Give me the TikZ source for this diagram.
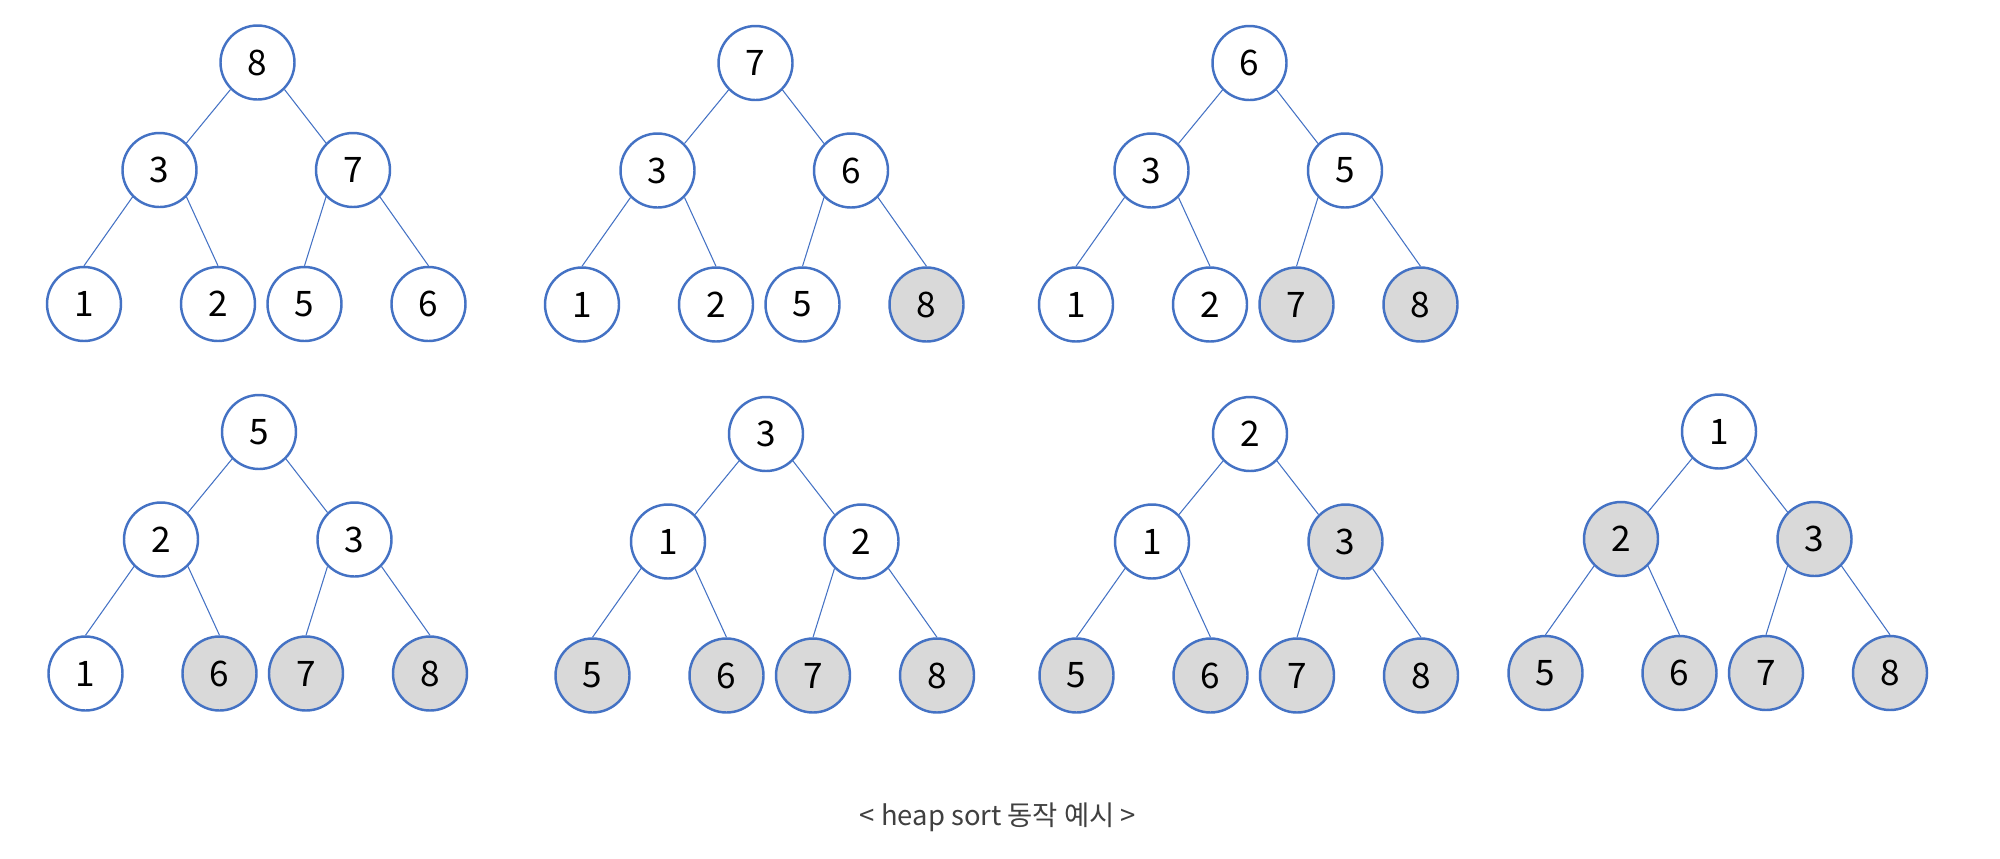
\documentclass[tikz,border=0pt]{standalone}
\usepackage{fontspec}
\setmainfont{Noto Sans CJK KR}
\usepackage{tikz}
\usetikzlibrary{positioning}
\pgfdeclarelayer{edgelayer}
\pgfdeclarelayer{nodelayer}
\pgfsetlayers{edgelayer,nodelayer,main}
\definecolor{KeyBlue}{HTML}{4472C4}
\definecolor{SortedGray}{HTML}{D9D9D9}
\definecolor{CaptionGray}{HTML}{404040}
\tikzstyle{key}=[circle,draw=KeyBlue,fill=white,line width=1.4pt,minimum size=1.48cm,inner sep=0pt,font=\fontsize{20}{22}\selectfont]
\tikzstyle{sorted}=[key,fill=SortedGray]
\tikzstyle{link}=[-,draw=KeyBlue,line width=0.6pt]
\tikzstyle{caption}=[text=CaptionGray,font=\fontsize{15.6}{18}\selectfont]

\begin{document}
\begin{tikzpicture}
	\useasboundingbox (0, 0) rectangle (40, -17.16);
	\begin{pgfonlayer}{nodelayer}
		\node [style=key] (0) at (5.15, -1.25) {8};
		\node [style=key] (1) at (3.19, -3.40) {3};
		\node [style=key] (2) at (7.06, -3.40) {7};
		\node [style=key] (3) at (1.68, -6.08) {1};
		\node [style=key] (4) at (4.36, -6.08) {2};
		\node [style=key] (5) at (6.09, -6.08) {5};
		\node [style=key] (6) at (8.57, -6.08) {6};
		\node [style=key] (7) at (15.11, -1.26) {7};
		\node [style=key] (8) at (13.15, -3.41) {3};
		\node [style=key] (9) at (17.02, -3.41) {6};
		\node [style=key] (10) at (11.64, -6.09) {1};
		\node [style=key] (11) at (14.32, -6.09) {2};
		\node [style=key] (12) at (16.05, -6.09) {5};
		\node [style=sorted] (13) at (18.53, -6.09) {8};
		\node [style=key] (14) at (24.99, -1.26) {6};
		\node [style=key] (15) at (23.03, -3.41) {3};
		\node [style=key] (16) at (26.90, -3.41) {5};
		\node [style=key] (17) at (21.52, -6.09) {1};
		\node [style=key] (18) at (24.20, -6.09) {2};
		\node [style=sorted] (19) at (25.93, -6.09) {7};
		\node [style=sorted] (20) at (28.41, -6.09) {8};
		\node [style=key] (21) at (5.18, -8.64) {5};
		\node [style=key] (22) at (3.22, -10.79) {2};
		\node [style=key] (23) at (7.09, -10.79) {3};
		\node [style=key] (24) at (1.71, -13.47) {1};
		\node [style=sorted] (25) at (4.39, -13.47) {6};
		\node [style=sorted] (26) at (6.12, -13.47) {7};
		\node [style=sorted] (27) at (8.60, -13.47) {8};
		\node [style=key] (28) at (15.32, -8.68) {3};
		\node [style=key] (29) at (13.36, -10.83) {1};
		\node [style=key] (30) at (17.23, -10.83) {2};
		\node [style=sorted] (31) at (11.85, -13.51) {5};
		\node [style=sorted] (32) at (14.53, -13.51) {6};
		\node [style=sorted] (33) at (16.26, -13.51) {7};
		\node [style=sorted] (34) at (18.74, -13.51) {8};
		\node [style=key] (35) at (25.00, -8.68) {2};
		\node [style=key] (36) at (23.04, -10.83) {1};
		\node [style=sorted] (37) at (26.91, -10.83) {3};
		\node [style=sorted] (38) at (21.53, -13.51) {5};
		\node [style=sorted] (39) at (24.21, -13.51) {6};
		\node [style=sorted] (40) at (25.94, -13.51) {7};
		\node [style=sorted] (41) at (28.42, -13.51) {8};
		\node [style=key] (42) at (34.38, -8.63) {1};
		\node [style=sorted] (43) at (32.42, -10.78) {2};
		\node [style=sorted] (44) at (36.29, -10.78) {3};
		\node [style=sorted] (45) at (30.91, -13.46) {5};
		\node [style=sorted] (46) at (33.59, -13.46) {6};
		\node [style=sorted] (47) at (35.32, -13.46) {7};
		\node [style=sorted] (48) at (37.80, -13.46) {8};
		\node [style=caption] (49) at (19.96, -16.34) {< heap sort 동작 예시 >};
	\end{pgfonlayer}
	\begin{pgfonlayer}{edgelayer}
		\draw [style=link] (0.south west) to (1.north east);
		\draw [style=link] (0.south east) to (2.north west);
		\draw [style=link] (1.south west) to (3.north);
		\draw [style=link] (1.south east) to (4.north);
		\draw [style=link] (2.south west) to (5.north);
		\draw [style=link] (2.south east) to (6.north);
		\draw [style=link] (7.south west) to (8.north east);
		\draw [style=link] (7.south east) to (9.north west);
		\draw [style=link] (8.south west) to (10.north);
		\draw [style=link] (8.south east) to (11.north);
		\draw [style=link] (9.south west) to (12.north);
		\draw [style=link] (9.south east) to (13.north);
		\draw [style=link] (14.south west) to (15.north east);
		\draw [style=link] (14.south east) to (16.north west);
		\draw [style=link] (15.south west) to (17.north);
		\draw [style=link] (15.south east) to (18.north);
		\draw [style=link] (16.south west) to (19.north);
		\draw [style=link] (16.south east) to (20.north);
		\draw [style=link] (21.south west) to (22.north east);
		\draw [style=link] (21.south east) to (23.north west);
		\draw [style=link] (22.south west) to (24.north);
		\draw [style=link] (22.south east) to (25.north);
		\draw [style=link] (23.south west) to (26.north);
		\draw [style=link] (23.south east) to (27.north);
		\draw [style=link] (28.south west) to (29.north east);
		\draw [style=link] (28.south east) to (30.north west);
		\draw [style=link] (29.south west) to (31.north);
		\draw [style=link] (29.south east) to (32.north);
		\draw [style=link] (30.south west) to (33.north);
		\draw [style=link] (30.south east) to (34.north);
		\draw [style=link] (35.south west) to (36.north east);
		\draw [style=link] (35.south east) to (37.north west);
		\draw [style=link] (36.south west) to (38.north);
		\draw [style=link] (36.south east) to (39.north);
		\draw [style=link] (37.south west) to (40.north);
		\draw [style=link] (37.south east) to (41.north);
		\draw [style=link] (42.south west) to (43.north east);
		\draw [style=link] (42.south east) to (44.north west);
		\draw [style=link] (43.south west) to (45.north);
		\draw [style=link] (43.south east) to (46.north);
		\draw [style=link] (44.south west) to (47.north);
		\draw [style=link] (44.south east) to (48.north);
	\end{pgfonlayer}
\end{tikzpicture}
\end{document}
